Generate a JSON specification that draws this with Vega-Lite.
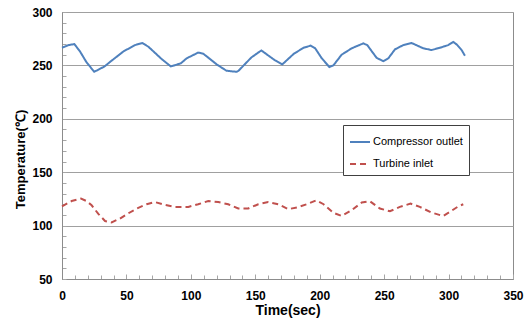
{
  "$schema": "https://vega.github.io/schema/vega-lite/v6.json",
  "width": 451,
  "height": 267,
  "autosize": "none",
  "padding": {"left": 62, "top": 12, "right": 16, "bottom": 45},
  "background": "white",
  "config": {
    "view": {"stroke": "#8c8c8c", "strokeWidth": 1},
    "font": "Liberation Sans"
  },
  "data": {
    "values": [
      {"t": 0, "v": 266.5, "s": "Compressor outlet"},
      {"t": 5, "v": 269, "s": "Compressor outlet"},
      {"t": 9.6, "v": 270, "s": "Compressor outlet"},
      {"t": 14, "v": 263, "s": "Compressor outlet"},
      {"t": 19, "v": 253, "s": "Compressor outlet"},
      {"t": 25, "v": 244, "s": "Compressor outlet"},
      {"t": 33, "v": 249, "s": "Compressor outlet"},
      {"t": 37, "v": 253, "s": "Compressor outlet"},
      {"t": 47.6, "v": 263, "s": "Compressor outlet"},
      {"t": 56.6, "v": 269, "s": "Compressor outlet"},
      {"t": 62.3, "v": 271, "s": "Compressor outlet"},
      {"t": 67, "v": 267.5, "s": "Compressor outlet"},
      {"t": 77.3, "v": 256, "s": "Compressor outlet"},
      {"t": 84.5, "v": 249, "s": "Compressor outlet"},
      {"t": 92.3, "v": 252, "s": "Compressor outlet"},
      {"t": 96.7, "v": 256.6, "s": "Compressor outlet"},
      {"t": 105.7, "v": 262, "s": "Compressor outlet"},
      {"t": 109.6, "v": 261, "s": "Compressor outlet"},
      {"t": 120, "v": 251, "s": "Compressor outlet"},
      {"t": 127.6, "v": 245, "s": "Compressor outlet"},
      {"t": 135.4, "v": 244, "s": "Compressor outlet"},
      {"t": 137, "v": 245, "s": "Compressor outlet"},
      {"t": 147, "v": 257.5, "s": "Compressor outlet"},
      {"t": 154.7, "v": 264, "s": "Compressor outlet"},
      {"t": 165, "v": 255, "s": "Compressor outlet"},
      {"t": 171, "v": 251, "s": "Compressor outlet"},
      {"t": 180, "v": 261, "s": "Compressor outlet"},
      {"t": 187.5, "v": 266.5, "s": "Compressor outlet"},
      {"t": 193, "v": 268.5, "s": "Compressor outlet"},
      {"t": 196.5, "v": 266, "s": "Compressor outlet"},
      {"t": 201.6, "v": 256.6, "s": "Compressor outlet"},
      {"t": 207.5, "v": 248.5, "s": "Compressor outlet"},
      {"t": 210.6, "v": 250, "s": "Compressor outlet"},
      {"t": 217, "v": 260, "s": "Compressor outlet"},
      {"t": 224.8, "v": 266, "s": "Compressor outlet"},
      {"t": 233.8, "v": 270.6, "s": "Compressor outlet"},
      {"t": 236.9, "v": 269, "s": "Compressor outlet"},
      {"t": 244.2, "v": 257, "s": "Compressor outlet"},
      {"t": 249.4, "v": 254, "s": "Compressor outlet"},
      {"t": 253.2, "v": 256.6, "s": "Compressor outlet"},
      {"t": 258.4, "v": 265, "s": "Compressor outlet"},
      {"t": 264.8, "v": 269, "s": "Compressor outlet"},
      {"t": 271.3, "v": 271, "s": "Compressor outlet"},
      {"t": 280.3, "v": 266, "s": "Compressor outlet"},
      {"t": 286.8, "v": 264.4, "s": "Compressor outlet"},
      {"t": 293.3, "v": 266.5, "s": "Compressor outlet"},
      {"t": 299.7, "v": 269, "s": "Compressor outlet"},
      {"t": 303.6, "v": 272, "s": "Compressor outlet"},
      {"t": 306.2, "v": 269.7, "s": "Compressor outlet"},
      {"t": 310.1, "v": 264.4, "s": "Compressor outlet"},
      {"t": 312.7, "v": 259, "s": "Compressor outlet"},
      {"t": 0, "v": 118, "s": "Turbine inlet"},
      {"t": 7.5, "v": 123, "s": "Turbine inlet"},
      {"t": 14.7, "v": 125.3, "s": "Turbine inlet"},
      {"t": 19, "v": 123, "s": "Turbine inlet"},
      {"t": 23, "v": 119, "s": "Turbine inlet"},
      {"t": 28.2, "v": 111, "s": "Turbine inlet"},
      {"t": 33.4, "v": 104.3, "s": "Turbine inlet"},
      {"t": 38.5, "v": 103, "s": "Turbine inlet"},
      {"t": 45, "v": 106.6, "s": "Turbine inlet"},
      {"t": 50.2, "v": 110.6, "s": "Turbine inlet"},
      {"t": 58, "v": 116, "s": "Turbine inlet"},
      {"t": 65.7, "v": 120, "s": "Turbine inlet"},
      {"t": 72.2, "v": 122, "s": "Turbine inlet"},
      {"t": 80, "v": 119.4, "s": "Turbine inlet"},
      {"t": 87.6, "v": 117.5, "s": "Turbine inlet"},
      {"t": 98, "v": 117.5, "s": "Turbine inlet"},
      {"t": 105.7, "v": 120, "s": "Turbine inlet"},
      {"t": 113.5, "v": 123, "s": "Turbine inlet"},
      {"t": 121.3, "v": 122, "s": "Turbine inlet"},
      {"t": 129, "v": 120, "s": "Turbine inlet"},
      {"t": 136.8, "v": 116, "s": "Turbine inlet"},
      {"t": 144.5, "v": 116, "s": "Turbine inlet"},
      {"t": 152.3, "v": 120, "s": "Turbine inlet"},
      {"t": 160, "v": 122, "s": "Turbine inlet"},
      {"t": 167.8, "v": 120, "s": "Turbine inlet"},
      {"t": 175.6, "v": 115.4, "s": "Turbine inlet"},
      {"t": 182.3, "v": 117, "s": "Turbine inlet"},
      {"t": 190, "v": 120, "s": "Turbine inlet"},
      {"t": 197.3, "v": 123.7, "s": "Turbine inlet"},
      {"t": 203, "v": 120, "s": "Turbine inlet"},
      {"t": 210.6, "v": 112, "s": "Turbine inlet"},
      {"t": 217, "v": 109, "s": "Turbine inlet"},
      {"t": 224.8, "v": 114.4, "s": "Turbine inlet"},
      {"t": 232.6, "v": 121.6, "s": "Turbine inlet"},
      {"t": 239, "v": 122.8, "s": "Turbine inlet"},
      {"t": 246.7, "v": 116, "s": "Turbine inlet"},
      {"t": 254.5, "v": 113.4, "s": "Turbine inlet"},
      {"t": 262.2, "v": 117.5, "s": "Turbine inlet"},
      {"t": 270.5, "v": 120.6, "s": "Turbine inlet"},
      {"t": 277.7, "v": 117.5, "s": "Turbine inlet"},
      {"t": 286.8, "v": 112.2, "s": "Turbine inlet"},
      {"t": 295.8, "v": 109, "s": "Turbine inlet"},
      {"t": 301, "v": 112.8, "s": "Turbine inlet"},
      {"t": 307.5, "v": 118, "s": "Turbine inlet"},
      {"t": 311.4, "v": 120, "s": "Turbine inlet"}
    ]
  },
  "mark": {"type": "line", "strokeWidth": 2},
  "encoding": {
    "x": {
      "field": "t", "type": "quantitative",
      "scale": {"domain": [0, 350], "nice": false},
      "axis": {
        "title": "Time(sec)",
        "titleFont": "Liberation Sans", "titleFontSize": 14, "titleFontWeight": "bold", "titleColor": "#000",
        "titleBaseline": "top",
        "titleY": 24,
        "values": [0,10,20,30,40,50,60,70,80,90,100,110,120,130,140,150,160,170,180,190,200,210,220,230,240,250,260,270,280,290,300,310,320,330,340,350],
        "labelExpr": "datum.value % 50 === 0 ? datum.label : ''",
        "labelFont": "Liberation Sans", "labelFontSize": 12, "labelFontWeight": "bold", "labelColor": "#000",
        "labelPadding": 16,
        "grid": false,
        "domainColor": "#8c8c8c",
        "tickColor": "#a6a6a6",
        "tickSize": {"condition": {"test": "datum.value % 50 === 0", "value": -5}, "value": -4},
        "labelFlush": false,
        "labelOverlap": false
      }
    },
    "y": {
      "field": "v", "type": "quantitative",
      "scale": {"domain": [50, 300], "nice": false, "zero": false},
      "axis": {
        "title": "Temperature(℃)",
        "titleFont": "Liberation Sans", "titleFontSize": 13, "titleFontWeight": "bold", "titleColor": "#000",
        "titlePadding": 4,
        "titleY": 147,
        "values": [50,60,70,80,90,100,110,120,130,140,150,160,170,180,190,200,210,220,230,240,250,260,270,280,290,300],
        "labelExpr": "datum.value % 50 === 0 ? datum.label : ''",
        "labelFont": "Liberation Sans", "labelFontSize": 12, "labelFontWeight": "bold", "labelColor": "#000",
        "labelPadding": 14,
        "grid": true,
        "gridColor": "#a0a0a0",
        "gridOpacity": {"condition": {"test": "datum.value % 50 === 0", "value": 1}, "value": 0},
        "domainColor": "#8c8c8c",
        "tickColor": "#a6a6a6",
        "tickSize": -4,
        "labelOverlap": false
      }
    },
    "color": {
      "field": "s", "type": "nominal",
      "scale": {"domain": ["Compressor outlet", "Turbine inlet"], "range": ["#4F81BD", "#C0504D"]},
      "legend": {
        "title": null,
        "orient": "none",
        "legendX": 281,
        "legendY": 113,
        "strokeColor": "#404040",
        "padding": 6,
        "symbolType": "stroke",
        "symbolSize": 400,
        "symbolStrokeWidth": 2,
        "labelFont": "Liberation Sans",
        "labelFontSize": 11,
        "labelColor": "#000",
        "rowPadding": 6,
        "labelOffset": 2,
        "fillColor": "white"
      }
    },
    "strokeDash": {
      "field": "s", "type": "nominal",
      "scale": {"domain": ["Compressor outlet", "Turbine inlet"], "range": [[1, 0], [6, 4]]},
      "legend": null
    }
  }
}
